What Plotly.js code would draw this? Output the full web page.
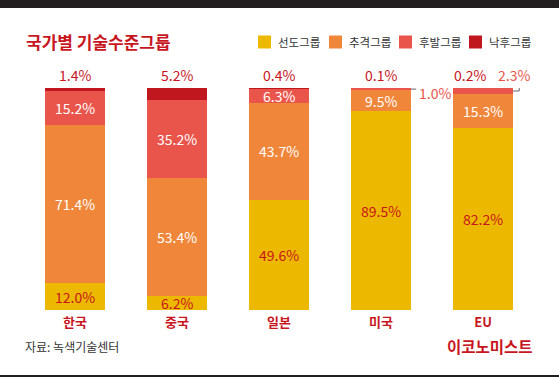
<!DOCTYPE html>
<html>
<head>
<meta charset="utf-8">
<script src="https://cdn.plot.ly/plotly-3.0.1.min.js"></script>
<style>html,body{margin:0;padding:0;background:#fff;}#chart{width:559px;height:377px;}</style>
</head>
<body>
<div id="chart"></div>
<script>
const categories = ['한국', '중국', '일본', '미국', 'EU'];
const seriesNames = ['선도그룹', '추격그룹', '후발그룹', '낙후그룹'];
const leading = [12.0, 6.2, 49.6, 89.5, 82.2];
const chasing = [71.4, 53.4, 43.7, 9.5, 15.3];
const lagging = [15.2, 35.2, 6.3, 1.0, 2.3];
const behind = [1.4, 5.2, 0.4, 0.1, 0.2];

const FONT = '"Noto Sans CJK KR", "Noto Sans", sans-serif';
const colors = ['#EDB900', '#F0863A', '#EA554B', '#C0171F'];
const RED = '#C8161E';
const W = 559, H = 377;
const M = {l: 24, r: 25, t: 88, b: 67};
const PW = W - M.l - M.r, PH = H - M.t - M.b;
const fx = px => (px - M.l) / PW;
const fy = py => (H - M.b - py) / PH;

const series = [leading, chasing, lagging, behind];
const xs = categories.map((c, i) => i);
const traces = series.map((vals, s) => ({
  type: 'bar', x: xs, y: vals, name: seriesNames[s],
  marker: {color: colors[s]}, hoverinfo: 'none', showlegend: false, cliponaxis: false
}));

const annotations = [];
const shapes = [];
const half = 0.294;
const fmt = v => v.toFixed(1) + '%';
const TOPY = 99.9; // anchor just inside the axis range so the label is not hidden

categories.forEach((c, i) => {
  let cum = 0;
  const total = series.reduce((a, arr) => a + arr[i], 0);
  series.forEach((arr, s) => {
    const v = arr[i];
    const mid = cum + v / 2;
    if (s < 3 && v >= 3) {
      annotations.push({x: i, y: mid, xref: 'x', yref: 'y', text: fmt(v), showarrow: false,
        font: {family: FONT, size: 14, color: s === 0 ? RED : '#ffffff'}});
    } else if (s === 2) {
      if (i === 3) {
        shapes.push({type: 'line', xref: 'x', yref: 'y', x0: i + half, x1: i + 0.345, y0: mid, y1: mid,
          line: {color: '#666', width: 1}});
        annotations.push({x: i + 0.35, y: mid, xref: 'x', yref: 'y', xanchor: 'left', yanchor: 'middle',
          yshift: -4, text: fmt(v), showarrow: false, font: {family: FONT, size: 14, color: '#EA554B'}});
      } else {
        shapes.push({type: 'path', xref: 'x', yref: 'y',
          path: `M${i + half},${mid} L${i + 0.355},${mid} L${i + 0.355},${total + 0.9}`,
          line: {color: '#666', width: 1}});
        annotations.push({x: i + 0.3, y: TOPY, xref: 'x', yref: 'y', xanchor: 'center', yanchor: 'bottom',
          yshift: 1, text: fmt(v), showarrow: false, font: {family: FONT, size: 14, color: '#EA554B'}});
      }
    } else if (s === 3) {
      const shifted = lagging[i] < 3 && i === 4;
      annotations.push({x: i, y: TOPY, xref: 'x', yref: 'y', xanchor: 'center', yanchor: 'bottom',
        yshift: 1, xshift: shifted ? -13 : 0, text: fmt(v), showarrow: false,
        font: {family: FONT, size: 14, color: RED}});
    }
    cum += v;
  });
});

// Title
annotations.push({xref: 'paper', yref: 'paper', x: fx(24), y: fy(42), xanchor: 'left', yanchor: 'middle',
  text: '<b>국가별 기술수준그룹</b>', showarrow: false, font: {family: FONT, size: 17, color: RED}});
// Legend
const legX = [258, 329, 399, 469];
seriesNames.forEach((n, s) => {
  shapes.push({type: 'rect', xref: 'paper', yref: 'paper', x0: fx(legX[s]), x1: fx(legX[s] + 13),
    y0: fy(35.5), y1: fy(48.5), fillcolor: colors[s], line: {width: 0}});
  annotations.push({xref: 'paper', yref: 'paper', x: fx(legX[s] + 18), y: fy(42), xanchor: 'left', yanchor: 'middle',
    text: n, showarrow: false, font: {family: FONT, size: 11.5, color: '#333'}});
});
// Source & brand
annotations.push({xref: 'paper', yref: 'paper', x: fx(23), y: fy(346), xanchor: 'left', yanchor: 'middle',
  text: '자료: 녹색기술센터', showarrow: false, font: {family: FONT, size: 12, color: '#333'}});
annotations.push({xref: 'paper', yref: 'paper', x: fx(535), y: fy(346), xanchor: 'right', yanchor: 'middle',
  text: '<b>이코노미스트</b>', showarrow: false, font: {family: FONT, size: 15.5, color: RED}});
// Frame bars
shapes.push({type: 'rect', xref: 'paper', yref: 'paper', x0: fx(0), x1: fx(W), y0: fy(0), y1: fy(8),
  fillcolor: '#231F20', line: {width: 0}});
shapes.push({type: 'rect', xref: 'paper', yref: 'paper', x0: fx(0), x1: fx(W), y0: fy(375), y1: fy(377),
  fillcolor: '#231F20', line: {width: 0}});

const layout = {
  width: W, height: H, margin: M,
  paper_bgcolor: '#fff', plot_bgcolor: '#fff',
  barmode: 'stack', bargap: 0.412,
  xaxis: {range: [-0.5, 4.5], tickvals: xs, ticktext: categories, ticks: '', showgrid: false, zeroline: false,
    showline: false, fixedrange: true, automargin: false, ticklabelstandoff: 3,
    tickfont: {family: FONT, size: 13, color: RED, weight: 'bold'}},
  yaxis: {range: [0, 100], visible: false, fixedrange: true},
  shapes: shapes, annotations: annotations, showlegend: false
};
Plotly.newPlot('chart', traces, layout, {displayModeBar: false, staticPlot: true});
</script>
</body>
</html>
